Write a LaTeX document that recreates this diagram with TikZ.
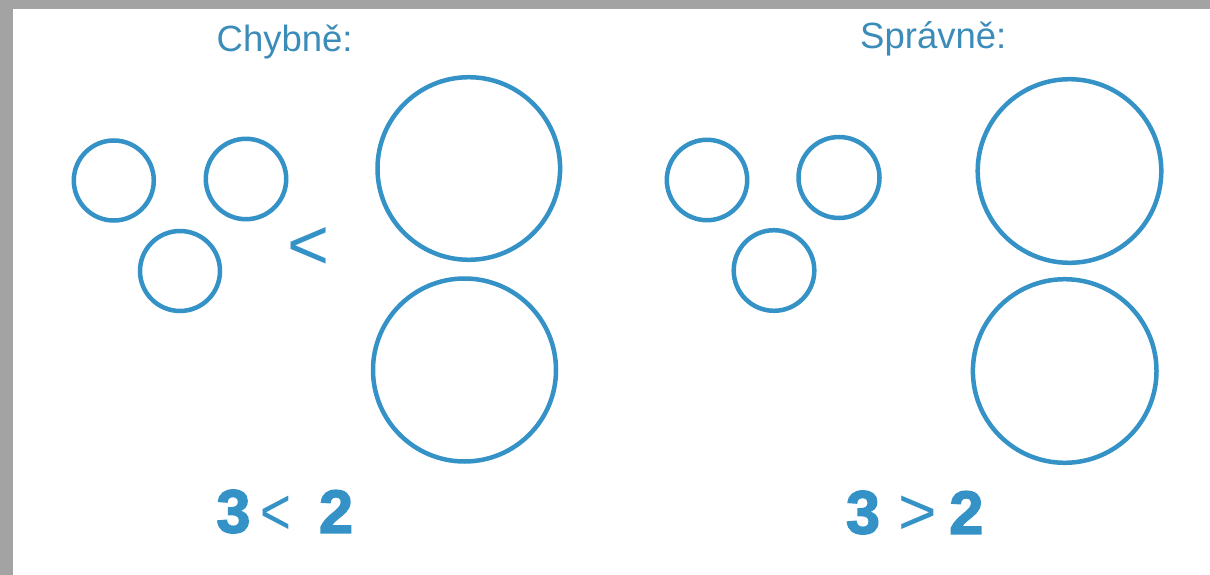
\documentclass[tikz,border=0pt]{standalone}
\usepackage{fontspec}
\setmainfont{Liberation Sans}
\newfontfamily\heavyfont[FakeBold=2.5]{Liberation Sans Bold}
\definecolor{ink}{RGB}{52,146,199}
\definecolor{inktext}{RGB}{60,140,185}
\definecolor{edge}{RGB}{163,163,163}
\begin{document}
\begin{tikzpicture}[x=1pt,y=-1pt,
  ring/.style={draw=ink,line width=4.5pt},
  title/.style={inner sep=0pt,anchor=base west,text=inktext,font=\fontsize{36.5}{40}\selectfont},
  digit/.style={inner sep=0pt,text=ink,font=\heavyfont\fontsize{61}{66}\selectfont},
  rel/.style={inner sep=0pt,text=ink,font=\fontsize{66}{72}\selectfont}]
\useasboundingbox (0,0) rectangle (1210,575);
\fill[white] (0,0) rectangle (1210,575);
\fill[edge] (0,0) rectangle (1210,9);
\fill[edge] (0,0) rectangle (13,575);
% titles
\node[title] (chyb) at (216.5,52) {Chybně:};
\node[title] (sprav) at (860,49) {Správně:};
% wrong
\draw[ring] (113.8,180.5) circle [radius=40];
\draw[ring] (246,179) circle [radius=40.2];
\draw[ring] (180,271) circle [radius=40];
\draw[ring] (468.8,168.5) circle [radius=91.3];
\draw[ring] (464.5,370) circle [radius=91.5];
\node[inner sep=0pt,text=ink,font=\fontsize{72}{80}\selectfont] (lt) at (308.6,248.5) {<};
\node[digit] (w3) at (233.4,511.5) {3};
\node[rel] (wlt) at (276,515.5) {\scalebox{0.8}[1]{<}};
\node[digit] (w2) at (336,511.5) {2};
% right
\draw[ring] (707,180) circle [radius=40.2];
\draw[ring] (839,177.5) circle [radius=40.5];
\draw[ring] (774,270.5) circle [radius=40.3];
\draw[ring] (1069.5,171) circle [radius=91.8];
\draw[ring] (1064.7,371) circle [radius=91.8];
\node[digit] (r3) at (863,512.5) {3};
\node[rel] (rgt) at (917.5,515.5) {>};
\node[digit] (r2) at (966.3,512.5) {2};
\end{tikzpicture}
\end{document}
